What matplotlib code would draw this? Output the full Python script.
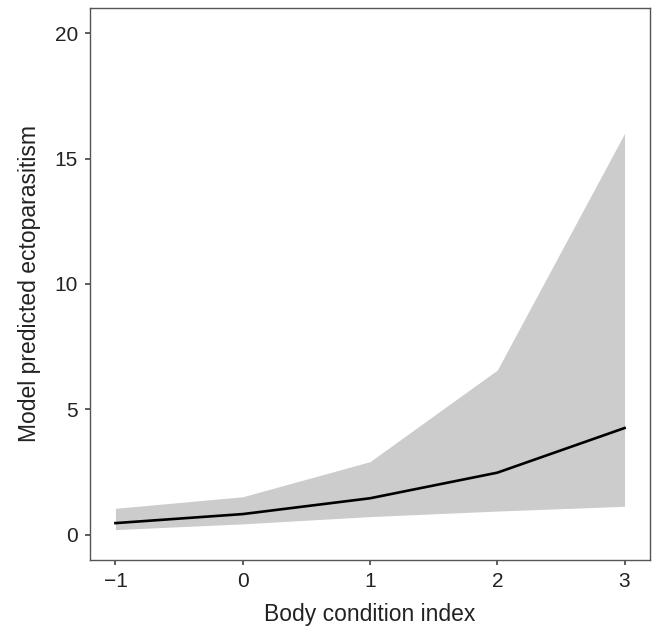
import matplotlib

matplotlib.use("Agg")
import matplotlib.pyplot as plt

plt.rcParams["font.family"] = ["Liberation Sans", "DejaVu Sans"]

body_condition = [-1, 0, 1, 2, 3]
predicted = [0.47, 0.83, 1.46, 2.48, 4.26]
upper_ci = [1.06, 1.52, 2.92, 6.57, 16.0]
lower_ci = [0.21, 0.44, 0.73, 0.95, 1.14]

fig = plt.figure(figsize=(6.54, 6.29), dpi=100)
ax = fig.add_axes([0.1376, 0.1097, 0.8563, 0.8776])

ax.fill_between(body_condition, lower_ci, upper_ci, color="#cccccc", linewidth=0)
ax.plot(body_condition, predicted, color="black", linewidth=1.9)

ax.set_xlim(-1.2, 3.2)
ax.set_ylim(-1, 21)
ax.set_xticks([-1, 0, 1, 2, 3])
ax.set_xticklabels(["\u22121", "0", "1", "2", "3"])
ax.set_yticks([0, 5, 10, 15, 20])

ax.set_xlabel("Body condition index", fontsize=16.5, color="#222222", labelpad=9)
ax.set_ylabel("Model predicted ectoparasitism", fontsize=16.5, color="#222222", labelpad=10)
ax.tick_params(labelsize=15, colors="#333333", length=3.6, width=1.1, pad=5, labelcolor="#222222")
for spine in ax.spines.values():
    spine.set_color("#555555")
    spine.set_linewidth(1.0)

fig.savefig("out.png", dpi=100)
